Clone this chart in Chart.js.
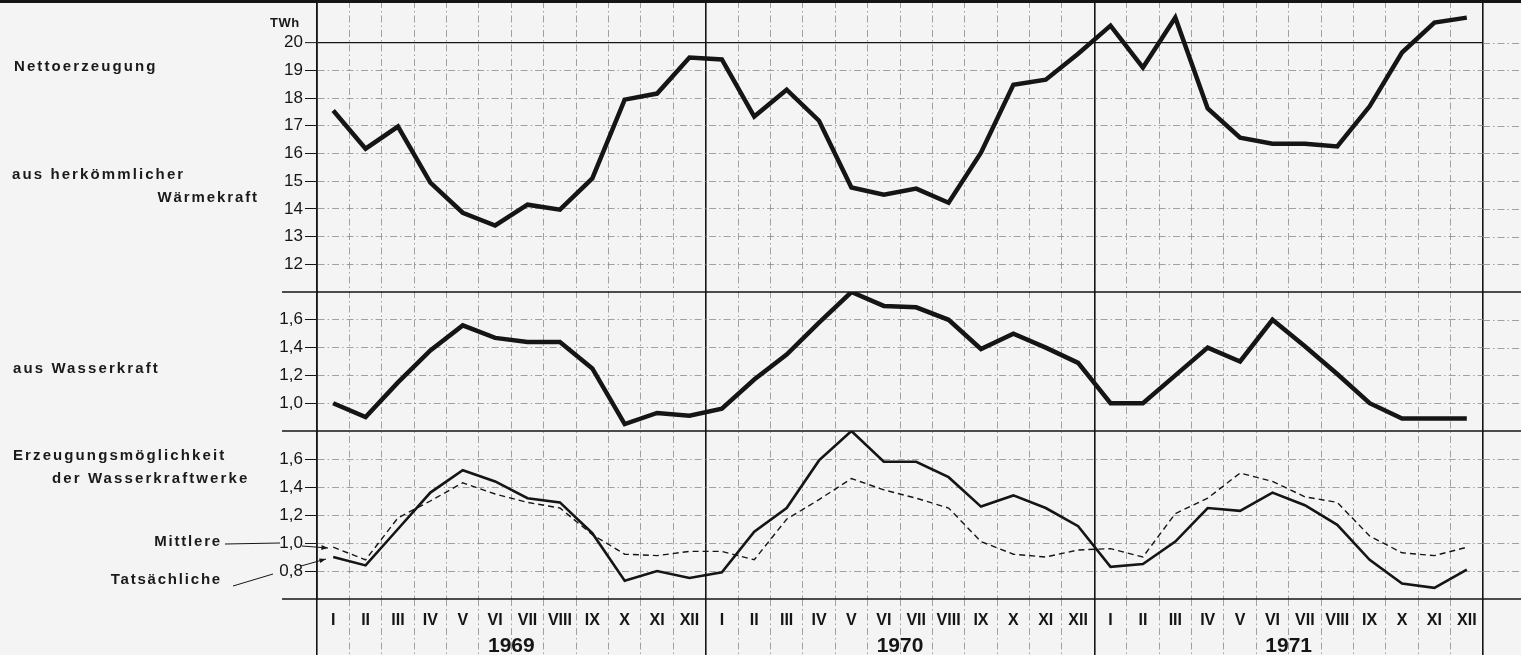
<!DOCTYPE html>
<html>
<head>
<meta charset="utf-8">
<script src="https://cdn.jsdelivr.net/npm/chart.js@4.4.1/dist/chart.umd.min.js"></script>
<style>
  body { margin: 0; background: #f4f4f4; }
  #wrap { position: relative; width: 1521px; height: 655px; overflow: hidden; }
  #chart { position: absolute; left: 0; top: 0; }
  .lbl {
    position: absolute; white-space: nowrap; color: #1a1a1a;
    font-family: "Liberation Sans", Arial, sans-serif; font-weight: bold;
    font-size: 15px; line-height: 16px; letter-spacing: 2.1px;
  }
</style>
</head>
<body>
<div id="wrap">
  <canvas id="chart" width="1521" height="655"></canvas>
  <div class="lbl" style="left:270px;top:15px;font-size:13px;letter-spacing:0.5px">TWh</div>
  <div class="lbl" style="left:14px;top:58px">Nettoerzeugung</div>
  <div class="lbl" style="left:12px;top:166px">aus herkömmlicher</div>
  <div class="lbl" style="right:1262px;top:189px;letter-spacing:1.9px">Wärmekraft</div>
  <div class="lbl" style="left:13px;top:360px">aus Wasserkraft</div>
  <div class="lbl" style="left:13px;top:447px">Erzeugungsmöglichkeit</div>
  <div class="lbl" style="left:52px;top:470px">der Wasserkraftwerke</div>
  <div class="lbl" style="right:1299px;top:533px;letter-spacing:1.8px">Mittlere</div>
  <div class="lbl" style="right:1299px;top:571px;letter-spacing:1.8px">Tatsächliche</div>
</div>
<script>
// months of 1969, 1970, 1971
const romans = ['I', 'II', 'III', 'IV', 'V', 'VI', 'VII', 'VIII', 'IX', 'X', 'XI', 'XII'];
const months = [...romans, ...romans, ...romans];
const years = ['1969', '1970', '1971'];

// Nettoerzeugung aus herkömmlicher Wärmekraft, TWh
const thermal = [
  17.55, 16.17, 16.97, 14.95, 13.86, 13.40, 14.15, 13.97, 15.10, 17.94, 18.16, 19.46,
  19.39, 17.33, 18.30, 17.18, 14.77, 14.51, 14.73, 14.22, 16.03, 18.48, 18.66, 19.60,
  20.61, 19.10, 20.90, 17.62, 16.57, 16.35, 16.35, 16.25, 17.70, 19.64, 20.72, 20.90
];
// aus Wasserkraft, TWh
const hydro = [
  1.00, 0.90, 1.15, 1.38, 1.56, 1.47, 1.44, 1.44, 1.25, 0.85, 0.93, 0.91,
  0.96, 1.17, 1.35, 1.58, 1.80, 1.70, 1.69, 1.60, 1.39, 1.50, 1.40, 1.29,
  1.00, 1.00, 1.20, 1.40, 1.30, 1.60, 1.41, 1.21, 1.00, 0.89, 0.89, 0.89
];
// Erzeugungsmöglichkeit der Wasserkraftwerke: Tatsächliche
const actual = [
  0.90, 0.84, 1.10, 1.36, 1.52, 1.44, 1.32, 1.29, 1.07, 0.73, 0.80, 0.75,
  0.79, 1.08, 1.25, 1.59, 1.80, 1.58, 1.58, 1.47, 1.26, 1.34, 1.25, 1.12,
  0.83, 0.85, 1.01, 1.25, 1.23, 1.36, 1.27, 1.13, 0.88, 0.71, 0.68, 0.81
];
// ... und Mittlere
const mean = [
  0.97, 0.88, 1.18, 1.30, 1.43, 1.35, 1.29, 1.25, 1.06, 0.92, 0.91, 0.94,
  0.94, 0.88, 1.17, 1.31, 1.46, 1.38, 1.32, 1.25, 1.01, 0.92, 0.90, 0.95,
  0.96, 0.90, 1.21, 1.32, 1.50, 1.44, 1.33, 1.29, 1.05, 0.93, 0.91, 0.97
];

const topTicks = [12, 13, 14, 15, 16, 17, 18, 19, 20];
const midTicks = [1.0, 1.2, 1.4, 1.6];
const botTicks = [0.8, 1.0, 1.2, 1.4, 1.6];

const FONT = '"Liberation Sans", Arial, sans-serif';
const INK = '#151515';
const GRID = '#8c8c8c';
const DASHDOT = [7, 3, 1.5, 3];

const isYearLine = c => c.index === undefined || c.index % 12 === 0;
const comma = v => v.toFixed(1).replace('.', ',');

// no extra room for half-labels at the ends of an axis
function noPad(s) {
  s.paddingTop = 0; s.paddingBottom = 0; s.paddingLeft = 0; s.paddingRight = 0;
}

function yAxis(min, max, weight, stackWeight, tickValues, fmt) {
  return {
    type: 'linear',
    position: 'left',
    stack: 'panels',
    stackWeight: stackWeight,
    weight: weight,
    min: min,
    max: max,
    afterBuildTicks: s => { s.ticks = tickValues.map(v => ({ value: v })); },
    afterFit: s => { s.width = 317; noPad(s); },
    ticks: { callback: fmt, autoSkip: false, color: INK, padding: 2, font: { family: FONT, size: 17 } },
    grid: {
      color: c => (c.tick && c.tick.value === 20) ? INK : GRID,
      lineWidth: c => (c.tick && c.tick.value === 20) ? 1.3 : 0.8,
      tickLength: 12,
      tickColor: INK,
      tickWidth: 1
    },
    border: {
      color: INK,
      width: 1.6,
      dash: c => (c.tick && c.tick.value === 20) ? [] : DASHDOT
    }
  };
}

const framePlugin = {
  id: 'frame',
  afterDraw(chart) {
    const { ctx, chartArea } = chart;
    const yT = chart.scales.yTop, yM = chart.scales.yMid, yB = chart.scales.yBot;
    const W = chart.width;
    const seg = (x1, y1, x2, y2) => { ctx.beginPath(); ctx.moveTo(x1, y1); ctx.lineTo(x2, y2); ctx.stroke(); };
    ctx.save();
    // gridlines run on past the right frame
    ctx.strokeStyle = GRID;
    ctx.lineWidth = 0.8;
    ctx.setLineDash(DASHDOT);
    [yT, yM, yB].forEach(s => s.ticks.forEach(t => {
      const y = Math.round(s.getPixelForValue(t.value)) + 0.5;
      seg(chartArea.right, y, W, y);
    }));
    ctx.setLineDash([]);
    // panel frame
    ctx.strokeStyle = INK;
    ctx.lineWidth = 3;
    seg(0, 1.5, W, 1.5);
    ctx.lineWidth = 1.6;
    [yT.bottom, yM.bottom, yB.bottom].forEach(y => seg(282, y, W, y));
    // pointers from the legend words to the curves
    ctx.lineWidth = 1;
    const y10 = yB.getPixelForValue(1.0);
    const y08 = yB.getPixelForValue(0.8);
    seg(225, y10 + 1, 280, y10);
    seg(233, y08 + 15, 273, y08 + 3);
    const arrow = (x1, y1, x2, y2) => {
      seg(x1, y1, x2, y2);
      const a = Math.atan2(y2 - y1, x2 - x1);
      ctx.beginPath();
      ctx.moveTo(x2, y2);
      ctx.lineTo(x2 - 7 * Math.cos(a - 0.35), y2 - 7 * Math.sin(a - 0.35));
      ctx.lineTo(x2 - 7 * Math.cos(a + 0.35), y2 - 7 * Math.sin(a + 0.35));
      ctx.closePath();
      ctx.fillStyle = INK;
      ctx.fill();
    };
    arrow(302, y10 + 3, 328, y10 + 5);
    arrow(301, y08 - 5, 326, y08 - 12);
    ctx.restore();
  }
};

new Chart(document.getElementById('chart'), {
  type: 'line',
  data: {
    labels: months,
    datasets: [
      { label: 'aus herkömmlicher Wärmekraft', data: thermal, yAxisID: 'yTop', borderColor: INK, borderWidth: 4.5 },
      { label: 'aus Wasserkraft', data: hydro, yAxisID: 'yMid', borderColor: INK, borderWidth: 4.5 },
      { label: 'Tatsächliche', data: actual, yAxisID: 'yBot', borderColor: INK, borderWidth: 2.6 },
      { label: 'Mittlere', data: mean, yAxisID: 'yBot', borderColor: INK, borderWidth: 1.4, borderDash: [6, 4] }
    ]
  },
  options: {
    responsive: false,
    animation: false,
    layout: { padding: { top: 1, right: 38, left: 0, bottom: 0 } },
    elements: { point: { radius: 0 }, line: { tension: 0, borderJoinStyle: 'miter', borderCapStyle: 'butt' } },
    plugins: { legend: { display: false }, tooltip: { enabled: false } },
    scales: {
      x: {
        type: 'category',
        position: 'bottom',
        weight: 0,
        offset: true,
        afterFit: s => { s.height = 35; noPad(s); },
        ticks: { color: INK, padding: -44, autoSkip: false, maxRotation: 0, font: { family: FONT, size: 16, weight: 'bold' } },
        grid: {
          offset: true,
          color: c => isYearLine(c) ? INK : GRID,
          lineWidth: c => isYearLine(c) ? 1.6 : 0.8,
          tickLength: 56,
          tickColor: c => isYearLine(c) ? INK : GRID,
          tickWidth: c => isYearLine(c) ? 1.6 : 0.8,
          tickBorderDash: c => isYearLine(c) ? [] : DASHDOT
        },
        border: { display: false, dash: c => isYearLine(c) ? [] : DASHDOT }
      },
      x2: {
        type: 'category',
        axis: 'x',
        position: 'bottom',
        weight: 1,
        labels: years,
        offset: true,
        afterFit: s => { s.height = 21; noPad(s); },
        grid: { display: false },
        border: { display: false },
        ticks: { color: INK, padding: -8, font: { family: FONT, size: 21, weight: 'bold' } }
      },
      yTop: yAxis(11, 21.5, 3, 291, topTicks, v => String(v)),
      yMid: yAxis(0.8, 1.8, 2, 139, midTicks, comma),
      yBot: yAxis(0.6, 1.8, 1, 168, botTicks, comma)
    }
  },
  plugins: [framePlugin]
});
</script>
</body>
</html>
